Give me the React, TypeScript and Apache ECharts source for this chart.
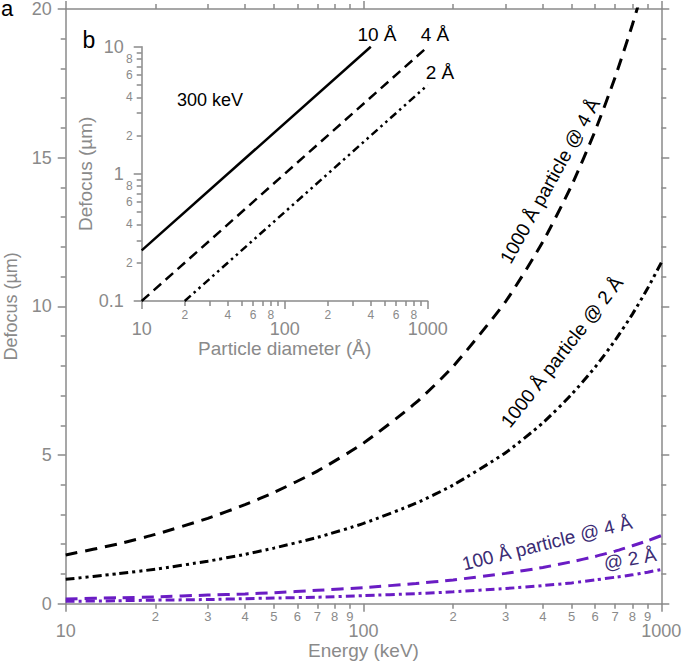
import React, { useEffect, useRef } from 'react';
import * as echarts from 'echarts';

// ---------- data ----------
const energies = [10, 15, 20, 30, 40, 50, 70, 100, 150, 200, 300, 400, 500, 600, 700, 800, 900, 1000];
const defocus1000at4 = [1.64, 2.01, 2.33, 2.87, 3.33, 3.74, 4.46, 5.40, 6.76, 7.98, 10.16, 12.17, 14.07, 15.91, 17.71, 19.48, 21.22, 22.94];
const defocus1000at2 = [0.82, 1.01, 1.16, 1.43, 1.66, 1.87, 2.23, 2.70, 3.38, 3.99, 5.08, 6.08, 7.04, 7.96, 8.86, 9.74, 10.61, 11.47];
const defocus100at4 = [0.16, 0.2, 0.23, 0.29, 0.33, 0.37, 0.45, 0.54, 0.68, 0.8, 1.02, 1.22, 1.41, 1.59, 1.77, 1.95, 2.12, 2.29];
const defocus100at2 = [0.08, 0.1, 0.12, 0.14, 0.17, 0.19, 0.22, 0.27, 0.34, 0.4, 0.51, 0.61, 0.7, 0.8, 0.89, 0.97, 1.06, 1.15];

// inset (300 keV)
const diam10A = [10, 400];
const def10A = [0.25, 10];
const diam4A = [10, 1000];
const def4A = [0.1, 10];
const diam2A = [20, 1000];
const def2A = [0.1, 5];

// ticks
const energyMajorTicks = [10, 100, 1000];
const energyMinorTicks = [20, 30, 40, 50, 60, 70, 80, 90, 200, 300, 400, 500, 600, 700, 800, 900];
const diameterMajorTicks = [10, 100, 1000];
const diameterMinorTicks = [20, 30, 40, 50, 60, 70, 80, 90, 200, 300, 400, 500, 600, 700, 800, 900];
const diameterMinorLabels = [20, 40, 60, 80, 200, 400, 600, 800];
const insetDefocusMajorTicks = [0.1, 1, 10];
const insetDefocusMinorTicks = [0.2, 0.3, 0.4, 0.5, 0.6, 0.7, 0.8, 0.9, 2, 3, 4, 5, 6, 7, 8, 9];
const insetDefocusMinorLabels = [0.2, 0.4, 0.6, 0.8, 2, 4, 6, 8];

// ---------- styling ----------
const GRAY = '#8a8a8a';
const PURPLE = '#6a1cc4';
const PURPLE_TEXT = '#3b2c74';
const FONT = '"Liberation Sans", Arial, Helvetica, sans-serif';
const lg = (v: number) => Math.log10(v);
const fullNum = (v: number) => String(Number(Math.pow(10, v).toPrecision(3)));
const leading = (v: number) => {
  const p = Math.floor(v + 1e-9);
  return String(Math.round(Math.pow(10, v - p)));
};

const lineGray = { color: GRAY, width: 1.5 };

function xAx(o: any) {
  return {
    type: 'value',
    splitLine: { show: false },
    axisLine: { show: false, onZero: false, lineStyle: lineGray },
    ...o,
  };
}

export default function App() {
  const ref = useRef<HTMLDivElement>(null);
  useEffect(() => {
    if (!ref.current) return;
    const chart = echarts.init(ref.current, undefined, { renderer: 'svg' });
    const mainData = (vals: number[]) => energies.map((e, i) => [lg(e), vals[i]]);
    const insetData = (xs: number[], ys: number[]) => xs.map((x, i) => [lg(x), lg(ys[i])]);

    const option: any = {
      animation: false,
      backgroundColor: '#fff',
      textStyle: { fontFamily: FONT },
      grid: [
        { left: 65.7, right: 21.7, top: 9, bottom: 57.3, containLabel: false, outerBoundsMode: 'none' },
        { left: 141.7, right: 255.3, top: 46.7, bottom: 360, containLabel: false, outerBoundsMode: 'none' },
      ],
      xAxis: [
        xAx({
          gridIndex: 0, min: 1, max: 3, position: 'bottom',
          axisLine: { show: true, onZero: false, lineStyle: lineGray },
          axisTick: { show: true, customValues: energyMajorTicks.map(lg), length: 8, lineStyle: lineGray },
          axisLabel: { show: true, customValues: energyMajorTicks.map(lg), formatter: fullNum, fontSize: 18, color: GRAY, margin: 18, fontFamily: FONT, showMinLabel: true, showMaxLabel: true },
          name: 'Energy (keV)', nameLocation: 'middle', nameGap: 37, nameMoveOverlap: false,
          nameTextStyle: { fontSize: 19, color: GRAY, fontFamily: FONT },
        }),
        xAx({
          gridIndex: 0, min: 1, max: 3, position: 'bottom',
          axisTick: { show: true, customValues: energyMinorTicks.map(lg), length: 5, lineStyle: lineGray },
          axisLabel: { show: true, customValues: energyMinorTicks.map(lg), formatter: leading, fontSize: 13, color: GRAY, margin: 6, fontFamily: FONT },
        }),
        xAx({
          gridIndex: 0, min: 1, max: 3, position: 'top',
          axisLine: { show: true, onZero: false, lineStyle: lineGray },
          axisTick: { show: true, customValues: energyMajorTicks.map(lg), length: 8, lineStyle: lineGray },
          axisLabel: { show: false },
        }),
        xAx({
          gridIndex: 0, min: 1, max: 3, position: 'top',
          axisTick: { show: true, customValues: energyMinorTicks.map(lg), length: 5, lineStyle: lineGray },
          axisLabel: { show: false },
        }),
        xAx({
          gridIndex: 1, min: 1, max: 3, position: 'bottom',
          axisLine: { show: true, onZero: false, lineStyle: lineGray },
          axisTick: { show: true, customValues: diameterMajorTicks.map(lg), length: 8, lineStyle: lineGray },
          axisLabel: { show: true, customValues: diameterMajorTicks.map(lg), formatter: fullNum, fontSize: 18, color: GRAY, margin: 19, fontFamily: FONT, showMinLabel: true, showMaxLabel: true },
          name: 'Particle diameter (Å)', nameLocation: 'middle', nameGap: 38, nameMoveOverlap: false,
          nameTextStyle: { fontSize: 19, color: GRAY, fontFamily: FONT },
        }),
        xAx({
          gridIndex: 1, min: 1, max: 3, position: 'bottom',
          axisTick: { show: true, customValues: diameterMinorTicks.map(lg), length: 5, lineStyle: lineGray },
          axisLabel: { show: true, customValues: diameterMinorLabels.map(lg), formatter: leading, fontSize: 12, color: GRAY, margin: 8, fontFamily: FONT },
        }),
      ],
      yAxis: [
        {
          type: 'value', gridIndex: 0, min: 0, max: 20, interval: 5, position: 'left',
          splitLine: { show: false },
          axisLine: { show: true, onZero: false, lineStyle: lineGray },
          axisTick: { show: true, length: 8, lineStyle: lineGray },
          minorTick: { show: true, splitNumber: 5, length: 5, lineStyle: lineGray },
          minorSplitLine: { show: false },
          axisLabel: { fontSize: 18, color: GRAY, margin: 14, fontFamily: FONT, showMinLabel: true, showMaxLabel: true },
          name: 'Defocus (µm)', nameLocation: 'middle', nameGap: 46, nameMoveOverlap: false,
          nameTextStyle: { fontSize: 18, color: GRAY, fontFamily: FONT },
        },
        {
          type: 'value', gridIndex: 0, min: 0, max: 20, interval: 5, position: 'right',
          splitLine: { show: false },
          axisLine: { show: true, onZero: false, lineStyle: lineGray },
          axisTick: { show: true, length: 8, lineStyle: lineGray },
          minorTick: { show: true, splitNumber: 5, length: 5, lineStyle: lineGray },
          minorSplitLine: { show: false },
          axisLabel: { show: false },
        },
        {
          type: 'value', gridIndex: 1, min: -1, max: 1, position: 'left',
          splitLine: { show: false },
          axisLine: { show: true, onZero: false, lineStyle: lineGray },
          axisTick: { show: true, customValues: insetDefocusMajorTicks.map(lg), length: 8, lineStyle: lineGray },
          axisLabel: { show: true, customValues: insetDefocusMajorTicks.map(lg), formatter: fullNum, fontSize: 18, color: GRAY, margin: 18, fontFamily: FONT, showMinLabel: true, showMaxLabel: true },
          name: 'Defocus (µm)', nameLocation: 'middle', nameGap: 47, nameMoveOverlap: false,
          nameTextStyle: { fontSize: 19, color: GRAY, fontFamily: FONT },
        },
        {
          type: 'value', gridIndex: 1, min: -1, max: 1, position: 'left',
          splitLine: { show: false },
          axisLine: { show: false, onZero: false },
          axisTick: { show: true, customValues: insetDefocusMinorTicks.map(lg), length: 5, lineStyle: lineGray },
          axisLabel: { show: true, customValues: insetDefocusMinorLabels.map(lg), formatter: leading, fontSize: 12, color: GRAY, margin: 9, fontFamily: FONT },
        },
      ],
      series: [
        {
          name: '1000 Å @ 4 Å', type: 'line', xAxisIndex: 0, yAxisIndex: 0, showSymbol: false, smooth: 0.2,
          data: mainData(defocus1000at4),
          lineStyle: { color: '#000', width: 3, type: [12, 8] },
        },
        {
          name: '1000 Å @ 2 Å', type: 'line', xAxisIndex: 0, yAxisIndex: 0, showSymbol: false, smooth: 0.2,
          data: mainData(defocus1000at2),
          lineStyle: { color: '#000', width: 3, type: [9, 4, 3, 4, 3, 4] },
        },
        {
          name: '100 Å @ 4 Å', type: 'line', xAxisIndex: 0, yAxisIndex: 0, showSymbol: false, smooth: 0.2,
          data: mainData(defocus100at4),
          lineStyle: { color: PURPLE, width: 3, type: [12, 7] },
        },
        {
          name: '100 Å @ 2 Å', type: 'line', xAxisIndex: 0, yAxisIndex: 0, showSymbol: false, smooth: 0.2,
          data: mainData(defocus100at2),
          lineStyle: { color: PURPLE, width: 3, type: [9, 4, 3, 4] },
        },
        {
          name: '10 Å', type: 'line', xAxisIndex: 4, yAxisIndex: 2, showSymbol: false,
          data: insetData(diam10A, def10A),
          lineStyle: { color: '#000', width: 2.5, type: 'solid' },
        },
        {
          name: '4 Å', type: 'line', xAxisIndex: 4, yAxisIndex: 2, showSymbol: false,
          data: insetData(diam4A, def4A),
          lineStyle: { color: '#000', width: 2.5, type: [10, 6] },
        },
        {
          name: '2 Å', type: 'line', xAxisIndex: 4, yAxisIndex: 2, showSymbol: false,
          data: insetData(diam2A, def2A),
          lineStyle: { color: '#000', width: 2.5, type: [8, 4, 2.5, 4, 2.5, 4] },
        },
      ],
      graphic: [
        { type: 'text', x: 1, y: 8, style: { text: 'a', fontSize: 22, fill: '#000', align: 'left', verticalAlign: 'middle', fontFamily: FONT } },
        { type: 'text', x: 89, y: 40, style: { text: 'b', fontSize: 23, fill: '#000', align: 'center', verticalAlign: 'middle', fontFamily: FONT } },
        { type: 'text', x: 210, y: 100, style: { text: '300 keV', fontSize: 18, fill: '#000', align: 'center', verticalAlign: 'middle', fontFamily: FONT } },
        { type: 'text', x: 377, y: 34, style: { text: '10 Å', fontSize: 19, fill: '#000', align: 'center', verticalAlign: 'middle', fontFamily: FONT } },
        { type: 'text', x: 435, y: 34, style: { text: '4 Å', fontSize: 19, fill: '#000', align: 'center', verticalAlign: 'middle', fontFamily: FONT } },
        { type: 'text', x: 440, y: 72, style: { text: '2 Å', fontSize: 19, fill: '#000', align: 'center', verticalAlign: 'middle', fontFamily: FONT } },
        { type: 'text', x: 550, y: 181, rotation: (61 * Math.PI) / 180, style: { text: '1000 Å particle @ 4 Å', fontSize: 19, fill: '#000', align: 'center', verticalAlign: 'middle', fontFamily: FONT } },
        { type: 'text', x: 562, y: 352, rotation: (52 * Math.PI) / 180, style: { text: '1000 Å particle @ 2 Å', fontSize: 19, fill: '#000', align: 'center', verticalAlign: 'middle', fontFamily: FONT } },
        { type: 'text', x: 547, y: 543, rotation: (14 * Math.PI) / 180, style: { text: '100 Å particle @ 4 Å', fontSize: 19, fill: PURPLE_TEXT, align: 'center', verticalAlign: 'middle', fontFamily: FONT } },
        { type: 'text', x: 630, y: 559, rotation: (10 * Math.PI) / 180, style: { text: '@ 2 Å', fontSize: 19, fill: PURPLE_TEXT, align: 'center', verticalAlign: 'middle', fontFamily: FONT } },
      ],
    };
    chart.setOption(option);
    return () => chart.dispose();
  }, []);
  return <div ref={ref} style={{ position: 'fixed', left: 0, top: 0, width: 683, height: 661 }} />;
}
